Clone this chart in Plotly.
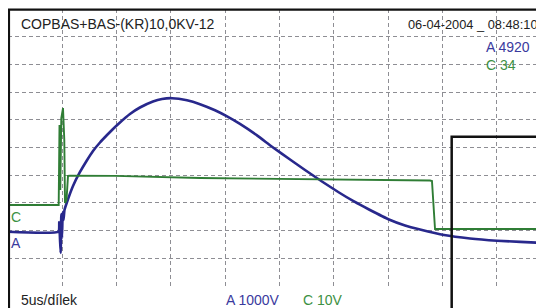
import plotly.graph_objects as go

# Channel A (blue) : time in microseconds, voltage in volts (1000 V / div)
a_time = [0.0, 4.65, 4.72, 4.79, 4.85, 4.91, 4.97, 5.04, 5.11, 5.20, 5.405, 5.985,
          6.63, 7.23, 7.83, 8.47, 9.12, 9.67, 10.31, 11.23, 12.15, 13.35, 14.18,
          15.10, 16.48, 17.68, 19.06, 20.17, 21.36, 22.93, 24.31, 25.97, 27.35,
          28.91, 30.48, 31.86, 33.24, 35.08, 36.56, 37.94, 40.15, 42.54, 45.03,
          49.36, 50.0]
a_volt = [-40, -40, 310, -339, -809, 599, -267, 671, 383, 744, 996, 1610,
          2116, 2513, 2874, 3181, 3451, 3668, 3903, 4209, 4444, 4661, 4751,
          4780, 4704, 4563, 4343, 4123, 3852, 3437, 3029, 2567, 2188,
          1773, 1375, 1051, 762, 401, 184, 40, -159, -285, -365,
          -448, -455]

# Channel C (green) : time in microseconds, voltage in volts (10 V / div)
c_time = [0.0, 4.65, 4.668, 4.742, 4.816, 4.908, 5.064, 5.184, 5.249, 5.387, 5.479,
          5.525, 5.709, 6.63, 9.853, 17.68, 24.31, 36.10, 38.86, 39.04, 39.23,
          39.32, 39.78, 50.0]
c_volt = [0.0, 0.0, 0.0, 28.9, 5.4, 31.4, 35.0, 23.5, 0.7, 1.8, 10.1,
          10.5, 10.6, 10.6, 10.5, 9.75, 9.5, 9.2, 8.85, 8.65, -1.8,
          -8.66, -8.6, -8.66]

title_text = "COPBAS+BAS-(KR)10,0KV-12"
date_text = "06-04-2004 _ 08:48:10"
a_peak_text = "A 4920"
c_peak_text = "C 34"
timebase_text = "5us/dílek"
a_scale_text = "A 1000V"
c_scale_text = "C 10V"

BLUE = "#28288c"
GREEN = "#2f7d35"
BLUE_T = "#3a3a9e"
GREEN_T = "#3d9143"
GRID = "#8e8e94"
FONT = "Liberation Sans"

fig = go.Figure()
fig.add_trace(go.Scatter(x=c_time, y=c_volt, mode="lines", yaxis="y2",
                         line=dict(color=GREEN, width=1.9), hoverinfo="skip"))
fig.add_trace(go.Scatter(x=a_time, y=a_volt, mode="lines",
                         line=dict(color=BLUE, width=2.6, shape="spline", smoothing=0.4),
                         hoverinfo="skip"))

fig.update_layout(
    width=544, height=308,
    margin=dict(l=0, r=1, t=1, b=29),
    paper_bgcolor="white", plot_bgcolor="white",
    showlegend=False,
    xaxis=dict(range=[0, 50], dtick=5, tick0=0, showgrid=True,
               gridcolor=GRID, gridwidth=1, griddash="4px,3px",
               showticklabels=False, zeroline=False, showline=False, ticks=""),
    yaxis=dict(range=[-2036, 8000], dtick=1000, tick0=0, showgrid=True,
               gridcolor=GRID, gridwidth=1, griddash="4px,3px",
               showticklabels=False, zeroline=False, showline=False, ticks=""),
    yaxis2=dict(range=[-29.6, 70.76], overlaying="y", visible=False,
                showgrid=False, zeroline=False),
)

# frame lines
fig.add_shape(type="line", xref="paper", yref="paper", x0=0, x1=1.01, y0=0.998, y1=0.998,
              line=dict(color="#111111", width=2.2))
fig.add_shape(type="line", xref="paper", yref="paper", x0=0.0018, x1=0.0018, y0=1.0, y1=-0.12,
              line=dict(color="#111111", width=2.2))
# cursor box on the right
fig.add_shape(type="path", xref="paper", yref="paper",
              path="M 0.8171,-0.12 L 0.8171,0.5406 L 1.02,0.5406",
              line=dict(color="#111111", width=2.5))

def ann(text, x, y, color, size=14):
    fig.add_annotation(text=text, xref="paper", yref="paper", x=x, y=y,
                       xanchor="left", yanchor="middle", showarrow=False,
                       font=dict(family=FONT, size=size, color=color))

ann(title_text, 0.0205, 0.946, "#222222")
ann(date_text, 0.733, 0.946, "#222222", 12.8)
ann(a_peak_text, 0.876, 0.863, BLUE_T)
ann(c_peak_text, 0.876, 0.799, GREEN_T)
ann("C", 0.002, 0.252, GREEN_T)
ann("A", 0.002, 0.158, BLUE_T)
ann(timebase_text, 0.0205, -0.047, "#222222")
ann(a_scale_text, 0.398, -0.047, BLUE_T)
ann(c_scale_text, 0.539, -0.047, GREEN_T)

fig.write_html("out.html")
